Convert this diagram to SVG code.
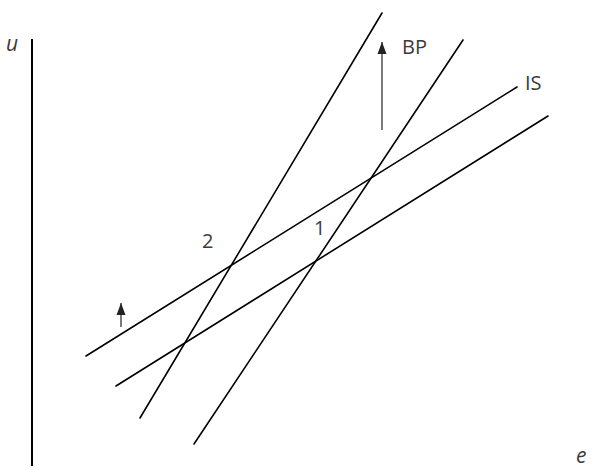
<svg xmlns="http://www.w3.org/2000/svg" width="595" height="468" viewBox="0 0 595 468">
<defs>
<style>
.curve{stroke:#000;stroke-width:1.6;fill:none;stroke-linecap:round}
.axis{stroke:#000;stroke-width:2;fill:none}
.shift{stroke:#222;stroke-width:1.2;fill:none}
.lbl{font-family:"Open Sans","Liberation Sans",sans-serif;font-size:20px;fill:#3a3a3a}
.var{font-family:"Open Sans","Liberation Sans",sans-serif;font-size:21px;font-style:italic;fill:#3a3a3a}
</style>
<marker id="ah" viewBox="0 0 12 10" refX="12" refY="5" markerWidth="12" markerHeight="10" markerUnits="userSpaceOnUse" orient="auto">
<path d="M0,0.5 L12,5 L0,9.5 Z" fill="#222"/>
</marker>
</defs>
<rect width="595" height="468" fill="#fff"/>
<g id="axes">
<line class="axis" x1="32" y1="39" x2="32" y2="466"/>
<text class="var" x="6" y="51">u</text>
<text class="var" x="576" y="463">e</text>
</g>
<g id="connectors">
<line id="BP1" class="curve" x1="140" y1="418" x2="382" y2="13"/>
<line id="BP2" class="curve" x1="194" y1="444" x2="463" y2="40"/>
<line id="IS1" class="curve" x1="86" y1="356" x2="517" y2="87"/>
<line id="IS2" class="curve" x1="116" y1="386" x2="548" y2="116"/>
<line id="arrowBP" class="shift" x1="382" y1="130" x2="382" y2="42" marker-end="url(#ah)"/>
<line id="arrowIS" class="shift" x1="121" y1="327" x2="121" y2="303" marker-end="url(#ah)"/>
</g>
<g id="labels">
<text class="lbl" x="402" y="54">BP</text>
<text class="lbl" x="525" y="90">IS</text>
<text class="lbl" x="202" y="248">2</text>
<text class="lbl" x="314" y="235">1</text>
</g>
</svg>
